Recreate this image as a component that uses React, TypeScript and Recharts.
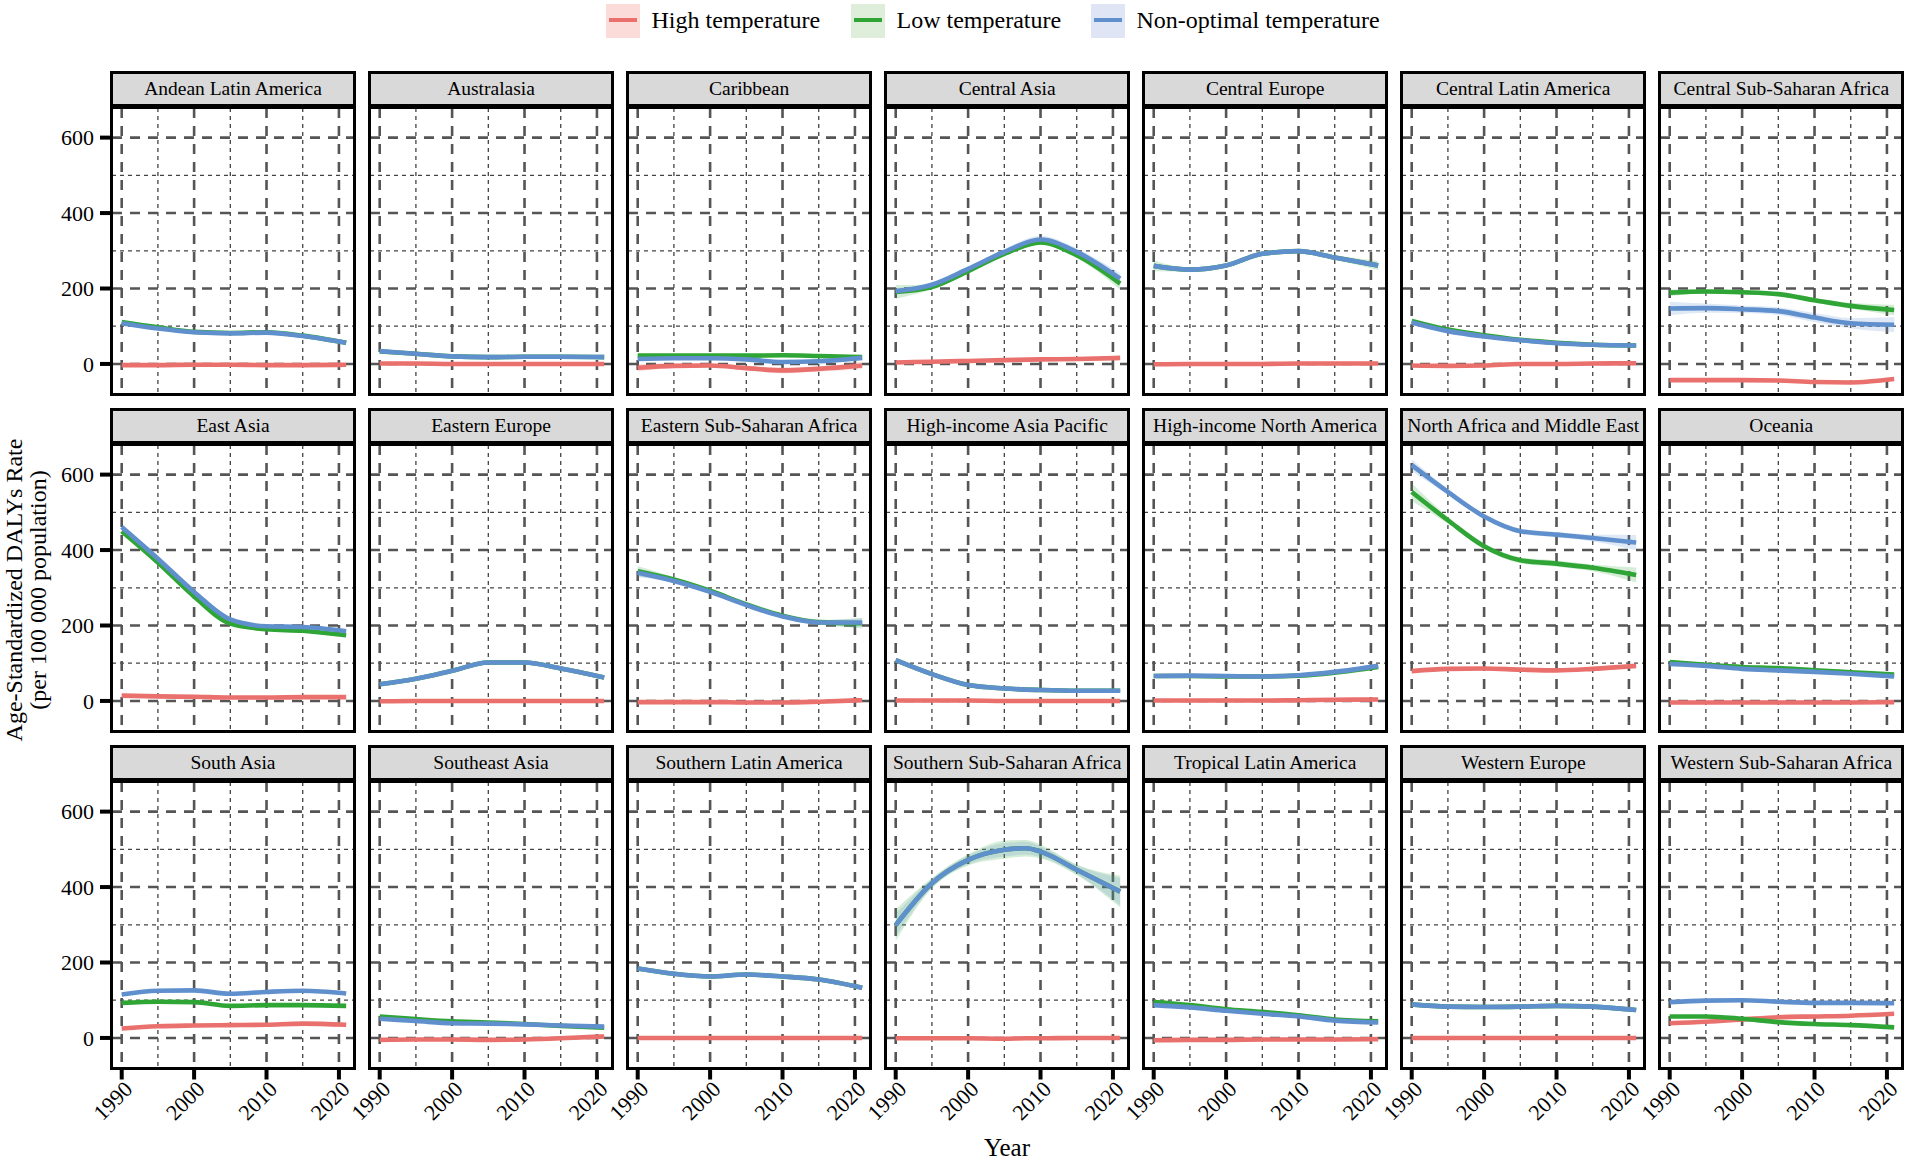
import React from "react";
import { Area, CartesianGrid, ComposedChart, Line, XAxis, YAxis } from "recharts";

const YEARS = [1990, 1995, 2000, 2005, 2010, 2015, 2021];
const MAJOR_Y = [0, 200, 400, 600];
const MINOR_Y = [100, 300, 500];
const MAJOR_X = [1990, 2000, 2010, 2020];
const MINOR_X = [1995, 2005, 2015];

const REGIONS = [
  "Andean Latin America", "Australasia", "Caribbean", "Central Asia", "Central Europe", "Central Latin America", "Central Sub-Saharan Africa",
  "East Asia", "Eastern Europe", "Eastern Sub-Saharan Africa", "High-income Asia Pacific", "High-income North America", "North Africa and Middle East", "Oceania",
  "South Asia", "Southeast Asia", "Southern Latin America", "Southern Sub-Saharan Africa", "Tropical Latin America", "Western Europe", "Western Sub-Saharan Africa",
];

// one row per region, same order as REGIONS
const HIGH = [
  [-3, -3, -2, -2, -3, -3, -2],
  [1, 1, 0, 0, 0, 0, 0],
  [-10, -5, -4, -11, -17, -13, -4],
  [4, 6, 8, 10, 12, 13, 16],
  [-1, 0, 0, 0, 1, 1, 1],
  [-4, -5, -4, 0, 0, 1, 2],
  [-43, -43, -43, -44, -48, -49, -40],
  [14, 12, 11, 9, 9, 10, 10],
  [-1, 0, 0, 0, 0, 0, 0],
  [-3, -3, -3, -4, -4, -2, 2],
  [1, 1, 1, 0, 0, 0, 0],
  [1, 1, 1, 1, 2, 3, 4],
  [79, 85, 86, 83, 81, 85, 93],
  [-4, -4, -4, -4, -4, -4, -3],
  [25, 31, 33, 34, 35, 38, 35],
  [-5, -4, -4, -5, -4, -1, 4],
  [0, 0, 0, 0, 0, 0, 0],
  [-1, -1, -1, -2, -1, 0, 0],
  [-6, -5, -5, -4, -4, -4, -3],
  [0, 0, 0, 0, 0, 0, 0],
  [39, 43, 49, 55, 57, 59, 64],
];

const LOW = [
  [111, 97, 85, 82, 84, 75, 56],
  [33, 27, 20, 18, 19, 19, 18],
  [22, 22, 22, 22, 23, 21, 18],
  [191, 204, 246, 292, 322, 288, 213],
  [260, 250, 261, 292, 299, 282, 261],
  [114, 91, 76, 64, 56, 51, 49],
  [189, 192, 190, 185, 169, 154, 143],
  [450, 367, 277, 205, 190, 186, 174],
  [44, 59, 80, 102, 102, 86, 62],
  [344, 322, 292, 256, 226, 209, 206],
  [108, 71, 42, 33, 29, 27, 27],
  [66, 66, 65, 65, 67, 75, 90],
  [554, 479, 410, 373, 364, 353, 334],
  [103, 96, 90, 87, 81, 76, 70],
  [93, 96, 95, 85, 87, 87, 85],
  [57, 50, 44, 41, 37, 32, 27],
  [184, 170, 163, 168, 163, 155, 133],
  [299, 410, 472, 499, 494, 446, 388],
  [95, 87, 76, 69, 60, 49, 44],
  [89, 83, 82, 83, 85, 83, 74],
  [57, 57, 51, 42, 37, 34, 28],
];

const NON_OPTIMAL = [
  [108, 94, 84, 81, 83, 74, 56],
  [34, 27, 20, 18, 19, 19, 18],
  [13, 15, 15, 12, 5, 7, 16],
  [193, 210, 252, 297, 330, 297, 226],
  [260, 250, 261, 292, 299, 282, 261],
  [110, 87, 73, 63, 55, 51, 49],
  [147, 148, 145, 140, 123, 108, 104],
  [461, 377, 289, 216, 198, 196, 185],
  [44, 59, 80, 102, 102, 86, 62],
  [340, 318, 289, 254, 224, 208, 208],
  [108, 71, 42, 33, 29, 27, 27],
  [66, 67, 66, 65, 68, 77, 93],
  [625, 554, 489, 450, 441, 432, 420],
  [98, 93, 85, 81, 77, 72, 65],
  [115, 125, 126, 117, 122, 125, 118],
  [51, 45, 39, 38, 36, 33, 30],
  [184, 170, 163, 168, 163, 155, 133],
  [299, 410, 472, 499, 494, 446, 388],
  [87, 81, 72, 64, 57, 46, 41],
  [89, 83, 82, 83, 85, 83, 74],
  [95, 99, 100, 96, 93, 93, 92],
];

// half-width of the uncertainty ribbons, only where they can be seen
const THIN_BAND = [3, 3, 3, 3, 3, 3, 3];
const HIGH_BAND: Record<string, number[]> = {
  Caribbean: [10, 6, 5, 6, 8, 7, 10],
};
const LOW_BAND: Record<string, number[]> = {
  "Central Asia": [18, 6, 5, 6, 6, 8, 16],
  "Central Europe": [14, 5, 4, 4, 5, 6, 12],
  "Central Sub-Saharan Africa": [9, 5, 5, 5, 6, 8, 14],
  "Eastern Sub-Saharan Africa": [14, 6, 5, 5, 5, 6, 14],
  "North Africa and Middle East": [24, 9, 7, 8, 8, 9, 20],
  "Southern Sub-Saharan Africa": [42, 14, 15, 24, 18, 14, 42],
};
const NON_BAND: Record<string, number[]> = {
  "Central Asia": [8, 6, 6, 8, 10, 9, 14],
  "Central Sub-Saharan Africa": [18, 12, 10, 10, 12, 14, 20],
  "Eastern Sub-Saharan Africa": [12, 5, 5, 5, 5, 6, 12],
  "North Africa and Middle East": [16, 8, 7, 7, 7, 9, 20],
  "Southern Sub-Saharan Africa": [30, 12, 12, 18, 14, 12, 36],
};

// the plateau of this panel ends between two of the shared years
const SOUTHERN_SSA_2008 = { year: 2008, high: -1, low: 503, non: 503, lowBand: [481, 525], nonBand: [486, 520], highBand: [-4, 2] };

const RED = "#e9706c";
const GREEN = "#2fa536";
const BLUE = "#5f90cd";
const SERIF = "'Liberation Serif', 'Times New Roman', serif";

const PLOT_W = 243;
const PLOT_H = 286.5;
const Y_GUTTER = 60;
const X_GUTTER = 80;

function rowsFor(i: number) {
  const name = REGIONS[i];
  const hb = HIGH_BAND[name] ?? THIN_BAND;
  const lb = LOW_BAND[name] ?? THIN_BAND;
  const nb = NON_BAND[name] ?? THIN_BAND;
  const rows = YEARS.map((year, k) => ({
    year,
    high: HIGH[i][k],
    low: LOW[i][k],
    non: NON_OPTIMAL[i][k],
    highBand: [HIGH[i][k] - hb[k], HIGH[i][k] + hb[k]],
    lowBand: [LOW[i][k] - lb[k], LOW[i][k] + lb[k]],
    nonBand: [NON_OPTIMAL[i][k] - nb[k], NON_OPTIMAL[i][k] + nb[k]],
  }));
  if (name === "Southern Sub-Saharan Africa") {
    rows.push(SOUTHERN_SSA_2008);
    rows.sort((a, b) => a.year - b.year);
  }
  return rows;
}

function YearTick({ x, y, payload }: any) {
  const ax = x + 12;
  const ay = y + 9;
  return (
    <text
      x={ax}
      y={ay}
      textAnchor="end"
      transform={`rotate(-45 ${ax} ${ay})`}
      fontFamily={SERIF}
      fontSize={22}
      fill="#000"
    >
      {payload.value}
    </text>
  );
}

// axis ticks stay on so the grid gets its positions, but nothing is drawn
function NoTick() {
  return <g />;
}

function Panel({ index }: { index: number }) {
  const col = index % 7;
  const row = Math.floor(index / 7);
  const left = 111.5 + col * 258.05;
  const top = 107.7 + row * 337;
  const showY = col === 0;
  const showX = row === 2;
  return (
    <>
      <div
        style={{
          position: "absolute",
          left: left - 1.5,
          top: top - 37,
          width: PLOT_W + 3,
          height: 38,
          boxSizing: "border-box",
          background: "#d9d9d9",
          border: "3px solid #000",
          borderBottomWidth: 5,
          fontFamily: SERIF,
          fontSize: 19.5,
          color: "#000",
          textAlign: "center",
          lineHeight: "30px",
          whiteSpace: "nowrap",
        }}
      >
        {REGIONS[index]}
      </div>
      <div style={{ position: "absolute", left: left - Y_GUTTER, top }}>
        <ComposedChart
          width={Y_GUTTER + PLOT_W}
          height={PLOT_H + X_GUTTER}
          data={rowsFor(index)}
          margin={{ top: 0, right: 0, bottom: 0, left: 0 }}
        >
          <XAxis
            dataKey="year"
            type="number"
            domain={[1988.66, 2022.22]}
            allowDataOverflow
            ticks={MAJOR_X}
            height={X_GUTTER}
            axisLine={false}
            tickSize={11}
            tickLine={showX ? { stroke: "#000", strokeWidth: 4 } : false}
            tick={showX ? <YearTick /> : <NoTick />}
            interval={0}
          />
          <YAxis
            type="number"
            domain={[-81, 678.5]}
            allowDataOverflow
            ticks={MAJOR_Y}
            width={Y_GUTTER}
            axisLine={false}
            tickSize={12}
            tickMargin={6}
            tickLine={showY ? { stroke: "#000", strokeWidth: 4 } : false}
            tick={showY ? { fontFamily: SERIF, fontSize: 22, fill: "#000" } : <NoTick />}
            interval={0}
          />
          <CartesianGrid
            horizontalValues={MINOR_Y}
            verticalValues={MINOR_X}
            stroke="#444"
            strokeWidth={1.3}
            strokeDasharray="4 4"
          />
          <CartesianGrid
            horizontalValues={MAJOR_Y}
            verticalValues={MAJOR_X}
            stroke="#555"
            strokeWidth={2.6}
            strokeDasharray="10 8"
          />
          <Area dataKey="highBand" type="monotone" stroke="none" fill={RED} fillOpacity={0.2} isAnimationActive={false} />
          <Area dataKey="lowBand" type="monotone" stroke="none" fill={GREEN} fillOpacity={0.2} isAnimationActive={false} />
          <Area dataKey="nonBand" type="monotone" stroke="none" fill={BLUE} fillOpacity={0.2} isAnimationActive={false} />
          <Line dataKey="high" type="monotone" stroke={RED} strokeWidth={4.6} dot={false} isAnimationActive={false} />
          <Line dataKey="low" type="monotone" stroke={GREEN} strokeWidth={4.6} dot={false} isAnimationActive={false} />
          <Line dataKey="non" type="monotone" stroke={BLUE} strokeWidth={4.6} dot={false} isAnimationActive={false} />
        </ComposedChart>
      </div>
      <div
        style={{
          position: "absolute",
          left: left - 1.5,
          top: top - 1.5,
          width: PLOT_W + 3,
          height: PLOT_H + 3,
          boxSizing: "border-box",
          border: "3px solid #000",
        }}
      />
    </>
  );
}

const LEGEND = [
  { label: "High temperature", color: RED, key: "#fbdcd8", x: 606 },
  { label: "Low temperature", color: GREEN, key: "#dfeeda", x: 851 },
  { label: "Non-optimal temperature", color: BLUE, key: "#dfe5f4", x: 1091 },
];

export default function App() {
  return (
    <div style={{ position: "absolute", left: 0, top: 0, width: 1908, height: 1161, background: "#fff", overflow: "hidden", fontFamily: SERIF }}>
      {LEGEND.map((l) => (
        <React.Fragment key={l.label}>
          <div style={{ position: "absolute", left: l.x, top: 3.5, width: 34, height: 34, background: l.key }} />
          <div style={{ position: "absolute", left: l.x + 3, top: 18, width: 28, height: 4, background: l.color }} />
          <div style={{ position: "absolute", left: l.x + 45.5, top: 4, fontSize: 24, lineHeight: "32px", whiteSpace: "nowrap", color: "#000" }}>
            {l.label}
          </div>
        </React.Fragment>
      ))}
      {REGIONS.map((_, i) => (
        <Panel key={i} index={i} />
      ))}
      <div style={{ position: "absolute", left: 932, width: 150, top: 1134, textAlign: "center", fontSize: 25, lineHeight: "28px", color: "#000" }}>
        Year
      </div>
      <div
        style={{
          position: "absolute",
          left: 26,
          top: 590,
          width: 0,
          height: 0,
          transform: "rotate(-90deg)",
          color: "#000",
          fontSize: 24,
          lineHeight: "24px",
        }}
      >
        <div style={{ position: "absolute", left: -250, width: 500, top: -24, textAlign: "center", whiteSpace: "nowrap" }}>
          Age-Standardized DALYs Rate
          <br />
          (per 100 000 population)
        </div>
      </div>
    </div>
  );
}
